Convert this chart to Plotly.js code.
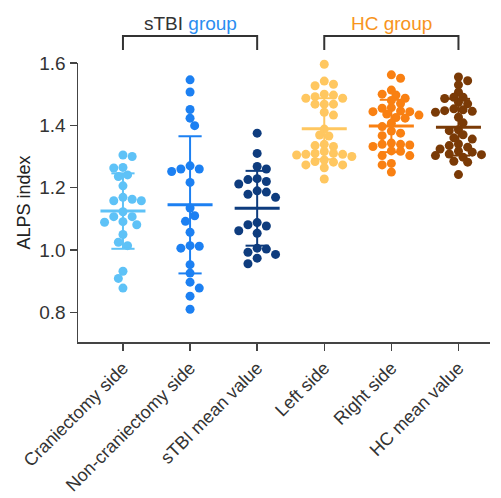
<!DOCTYPE html>
<html>
<head>
<meta charset="utf-8">
<script src="https://cdn.plot.ly/plotly-3.0.1.min.js"></script>
<style>html,body{margin:0;padding:0;background:#fff;}#chart{width:501px;height:498px;}</style>
</head>
<body>
<div id="chart"></div>
<script>
// ---- data ----
const categories = ['Craniectomy side', 'Non-craniectomy side', 'sTBI mean value', 'Left side', 'Right side', 'HC mean value'];
const craniectomySide = [1.305, 1.300, 1.265, 1.263, 1.241, 1.236, 1.206, 1.169, 1.158, 1.158, 1.163, 1.123, 1.107, 1.107, 1.089, 1.091, 1.081, 1.050, 1.025, 1.014, 0.932, 0.909, 0.878];
const nonCraniectomySide = [1.546, 1.507, 1.451, 1.423, 1.399, 1.270, 1.252, 1.260, 1.260, 1.217, 1.135, 1.110, 1.092, 1.057, 1.012, 1.014, 1.006, 0.953, 0.926, 0.897, 0.878, 0.852, 0.810];
const sTBIMeanValue = [1.375, 1.310, 1.260, 1.268, 1.229, 1.212, 1.226, 1.220, 1.190, 1.169, 1.179, 1.186, 1.077, 1.088, 1.054, 1.062, 1.081, 1.006, 1.003, 0.993, 0.986, 0.956, 0.974];
const leftSide = [1.596, 1.542, 1.527, 1.532, 1.487, 1.487, 1.497, 1.500, 1.492, 1.468, 1.468, 1.468, 1.433, 1.442, 1.369, 1.366, 1.388, 1.332, 1.335, 1.339, 1.300, 1.310, 1.305, 1.310, 1.316, 1.307, 1.307, 1.284, 1.289, 1.282, 1.273, 1.273, 1.264, 1.228];
const rightSide = [1.562, 1.551, 1.513, 1.497, 1.500, 1.487, 1.480, 1.470, 1.455, 1.457, 1.444, 1.444, 1.436, 1.433, 1.446, 1.423, 1.425, 1.407, 1.396, 1.382, 1.375, 1.367, 1.339, 1.337, 1.343, 1.339, 1.332, 1.318, 1.317, 1.303, 1.303, 1.278, 1.273, 1.250];
const hcMeanValue = [1.555, 1.543, 1.530, 1.506, 1.486, 1.490, 1.490, 1.474, 1.469, 1.453, 1.450, 1.442, 1.445, 1.447, 1.426, 1.408, 1.383, 1.386, 1.356, 1.370, 1.360, 1.340, 1.330, 1.335, 1.324, 1.317, 1.298, 1.308, 1.314, 1.303, 1.306, 1.282, 1.285, 1.242];
const groupMeans = [1.125, 1.145, 1.134, 1.389, 1.398, 1.394];
const groupSDs = [0.121, 0.220, 0.120, 0.098, 0.084, 0.091];
const yTickValues = [0.8, 1.0, 1.2, 1.4, 1.6];
const groupLabels = ['sTBI', 'group', 'HC group'];

// ---- style ----
const series = [craniectomySide, nonCraniectomySide, sTBIMeanValue, leftSide, rightSide, hcMeanValue];
const colors = ['#5EC2F7', '#1C80F2', '#0E3C7E', '#FFC760', '#F98012', '#7A3A06'];
const packDist = [8.4, 8.4, 8.4, 6.6, 6.6, 6.6];
const M = {l: 78, r: 11, t: 63, b: 156};
const W = 501, H = 498;
const xRange = [-0.67, 5.47];
const yRange = [0.705, 1.6];
const pxX = (W - M.l - M.r) / (xRange[1] - xRange[0]);
const pxY = (H - M.t - M.b) / (yRange[1] - yRange[0]);

function swarm(vals, stepPx, minDist) {
  const order = vals.map((v, i) => i).sort((a, b) => vals[b] - vals[a]);
  const placed = [];
  const off = new Array(vals.length).fill(0);
  let flip = 1;
  order.forEach(i => {
    const y = vals[i] * pxY;
    for (let k = 0; k < 60; k++) {
      const cands = k === 0 ? [0] : [flip * k * stepPx, -flip * k * stepPx];
      let found = null;
      for (const c of cands) {
        if (placed.every(p => Math.hypot(p.x - c, p.y - y) >= minDist)) { found = c; break; }
      }
      if (found !== null) {
        off[i] = found;
        placed.push({x: found, y: y});
        if (found !== 0) flip = -flip;
        break;
      }
    }
  });
  return off.map(o => o / pxX);
}

const traces = [];
series.forEach((vals, gi) => {
  const offs = swarm(vals, 4.6, packDist[gi]);
  traces.push({
    type: 'scatter', mode: 'markers',
    x: vals.map((v, i) => gi + offs[i]), y: vals,
    marker: {size: 9, color: colors[gi], line: {width: 0}},
    cliponaxis: false, hoverinfo: 'y', showlegend: false
  });
});
const meanHalf = 22.5 / pxX, capHalf = 11.6 / pxX;
series.forEach((vals, gi) => {
  const m = groupMeans[gi], s = groupSDs[gi];
  traces.push({
    type: 'scatter', mode: 'lines',
    x: [gi - capHalf, gi + capHalf, null, gi, gi, null, gi - capHalf, gi + capHalf],
    y: [m + s, m + s, null, m + s, m - s, null, m - s, m - s],
    line: {color: colors[gi], width: 2}, cliponaxis: false, hoverinfo: 'skip', showlegend: false
  });
  traces.push({
    type: 'scatter', mode: 'lines',
    x: [gi - meanHalf, gi + meanHalf], y: [m, m],
    line: {color: colors[gi], width: 3}, cliponaxis: false, hoverinfo: 'skip', showlegend: false
  });
});

const plotH = H - M.t - M.b;
const py = px => (H - M.b - px) / plotH; // pixel from top -> paper
const brk = (a, b) => ({
  type: 'path', xref: 'x', yref: 'paper',
  path: `M ${a} ${py(50)} L ${a} ${py(36)} L ${b} ${py(36)} L ${b} ${py(50)}`,
  line: {color: '#333', width: 2}
});

const layout = {
  width: W, height: H,
  margin: M,
  paper_bgcolor: '#fff', plot_bgcolor: '#fff',
  font: {family: 'Liberation Sans, Arial, sans-serif', size: 18, color: '#333'},
  showlegend: false,
  xaxis: {
    range: xRange, tickvals: [0, 1, 2, 3, 4, 5], ticktext: categories, tickangle: -45,
    showgrid: false, zeroline: false, showline: true, linecolor: '#444', linewidth: 1.5,
    ticks: 'outside', ticklen: 7, tickwidth: 1.5, tickcolor: '#444',
    tickfont: {size: 18, color: '#333'}
  },
  yaxis: {
    range: yRange, tickvals: yTickValues, tickformat: '.1f',
    showgrid: false, zeroline: false, showline: true, linecolor: '#444', linewidth: 1.5,
    ticks: 'outside', ticklen: 7, tickwidth: 1.5, tickcolor: '#444',
    tickfont: {size: 19, color: '#333'},
    title: {text: 'ALPS index', font: {size: 18, color: '#222'}, standoff: 4}
  },
  shapes: [brk(0, 2), brk(3, 5)],
  annotations: [
    {xref: 'x', yref: 'paper', x: 1, y: py(24), yanchor: 'middle', showarrow: false,
     text: groupLabels[0] + ' <span style="color:#2A8DF0">' + groupLabels[1] + '</span>',
     font: {size: 19, color: '#333'}},
    {xref: 'x', yref: 'paper', x: 4, y: py(24), yanchor: 'middle', showarrow: false,
     text: groupLabels[2], font: {size: 19, color: '#F7941D'}}
  ]
};

Plotly.newPlot('chart', traces, layout, {displayModeBar: false, staticPlot: true});
</script>
</body>
</html>
